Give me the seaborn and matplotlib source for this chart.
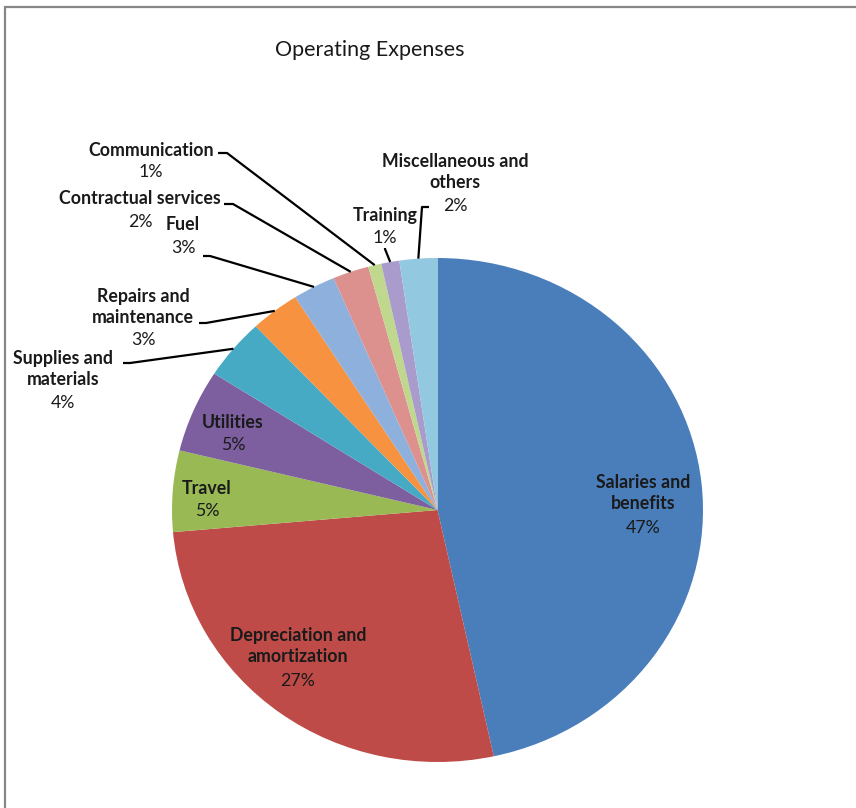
import numpy as np
import matplotlib
matplotlib.use("Agg")
import matplotlib.pyplot as plt
import matplotlib.patches as mpatches
import seaborn as sns

# Operating expense breakdown (share of total, %)
categories = [
    "Salaries and\nbenefits",
    "Depreciation and\namortization",
    "Travel",
    "Utilities",
    "Supplies and\nmaterials",
    "Repairs and\nmaintenance",
    "Fuel",
    "Contractual services",
    "Communication",
    "Training",
    "Miscellaneous and\nothers",
]
values = [46.6, 27.0, 5.2, 5.3, 3.9, 3.0, 2.6, 2.2, 0.8, 1.1, 2.3]

colors = ["#4a7ebb", "#be4b48", "#98b954", "#7d5fa0", "#46aac5", "#f69240",
          "#8eb0dc", "#dc918f", "#bfd88e", "#a99bcb", "#93c9e0"]

sns.set_theme(style="white")
plt.rcParams["font.family"] = ["Lato", "DejaVu Sans"]

W, H = 856, 808
fig = plt.figure(figsize=(W / 100, H / 100), dpi=100)
fig.patch.set_facecolor("white")

# pie geometry in pixels (top-left origin)
CX, CY, RX, RY = 437.5, 510.0, 265.5, 252.0
ax = fig.add_axes([(CX - RX) / W, (H - CY - RY) / H, 2 * RX / W, 2 * RY / H])
ax.pie(values, colors=sns.color_palette(colors), startangle=90, counterclock=False,
       radius=1.0, wedgeprops=dict(linewidth=0))
ax.set_aspect("auto")
ax.set_xlim(-1, 1)
ax.set_ylim(-1, 1)
ax.axis("off")


def to_data(px, py):
    return (px - CX) / RX, (CY - py) / RY


total = sum(values)
pcts = [f"{v / total * 100:.0f}%" for v in values]

# rim mid-point of each wedge, in pie data coordinates
cum = np.cumsum([0] + values)
mids = []
for i in range(len(values)):
    frac = (cum[i] + cum[i + 1]) / 2 / total
    ang = np.deg2rad(90 - 360 * frac)
    mids.append((np.cos(ang), np.sin(ang)))

# label layout: (x center, name center y, pct x, pct y) in pixels
layout = {
    0: (643, 493, 643, 528),
    1: (298, 646, 298, 681),
    2: (207, 489, 207, 511),
    3: (233, 423, 233, 445),
    4: (63, 369, 63, 403),
    5: (143, 307, 143, 340),
    6: (183, 225, 183, 248),
    7: (140, 199, 140, 222),
    8: (151, 151, 151, 172),
    9: (385, 215, 385, 238),
    10: (455, 172, 455, 206),
}

fs = 12.8
for i, (nx, ny, qx, qy) in layout.items():
    x, y = to_data(nx, ny)
    ax.text(x, y, categories[i], ha="center", va="center", fontsize=fs,
            fontweight="bold", color="#1a1a1a", linespacing=1.22, clip_on=False)
    x, y = to_data(qx, qy)
    ax.text(x, y, pcts[i], ha="center", va="center", fontsize=fs,
            color="#1a1a1a", clip_on=False)

# leader lines: label end -> elbow -> wedge rim
leaders = {
    4: [(123, 363), (130, 363)],
    5: [(199, 323), (206, 323)],
    6: [(203, 256), (210, 256)],
    7: [(224, 204), (233, 204)],
    8: [(218, 153), (227, 153)],
    9: [(385, 248), (385, 249)],
    10: [(429, 207), (422, 207)],
}
for i, pts in leaders.items():
    xs, ys = zip(*[to_data(*p) for p in pts])
    xs = list(xs) + [mids[i][0]]
    ys = list(ys) + [mids[i][1]]
    ax.plot(xs, ys, color="black", lw=1.6, clip_on=False, solid_capstyle="butt")

fig.text(370 / W, 1 - 50 / H, "Operating Expenses", ha="center", va="center",
         fontsize=15.5, color="#1a1a1a")

# chart frame
fig.patches.append(mpatches.Rectangle((5 / W, -0.1), 1.2, 1 - 7 / H + 0.1,
                                      transform=fig.transFigure, fill=False,
                                      edgecolor="#878787", lw=1.6))

fig.savefig("out.png", dpi=100)
